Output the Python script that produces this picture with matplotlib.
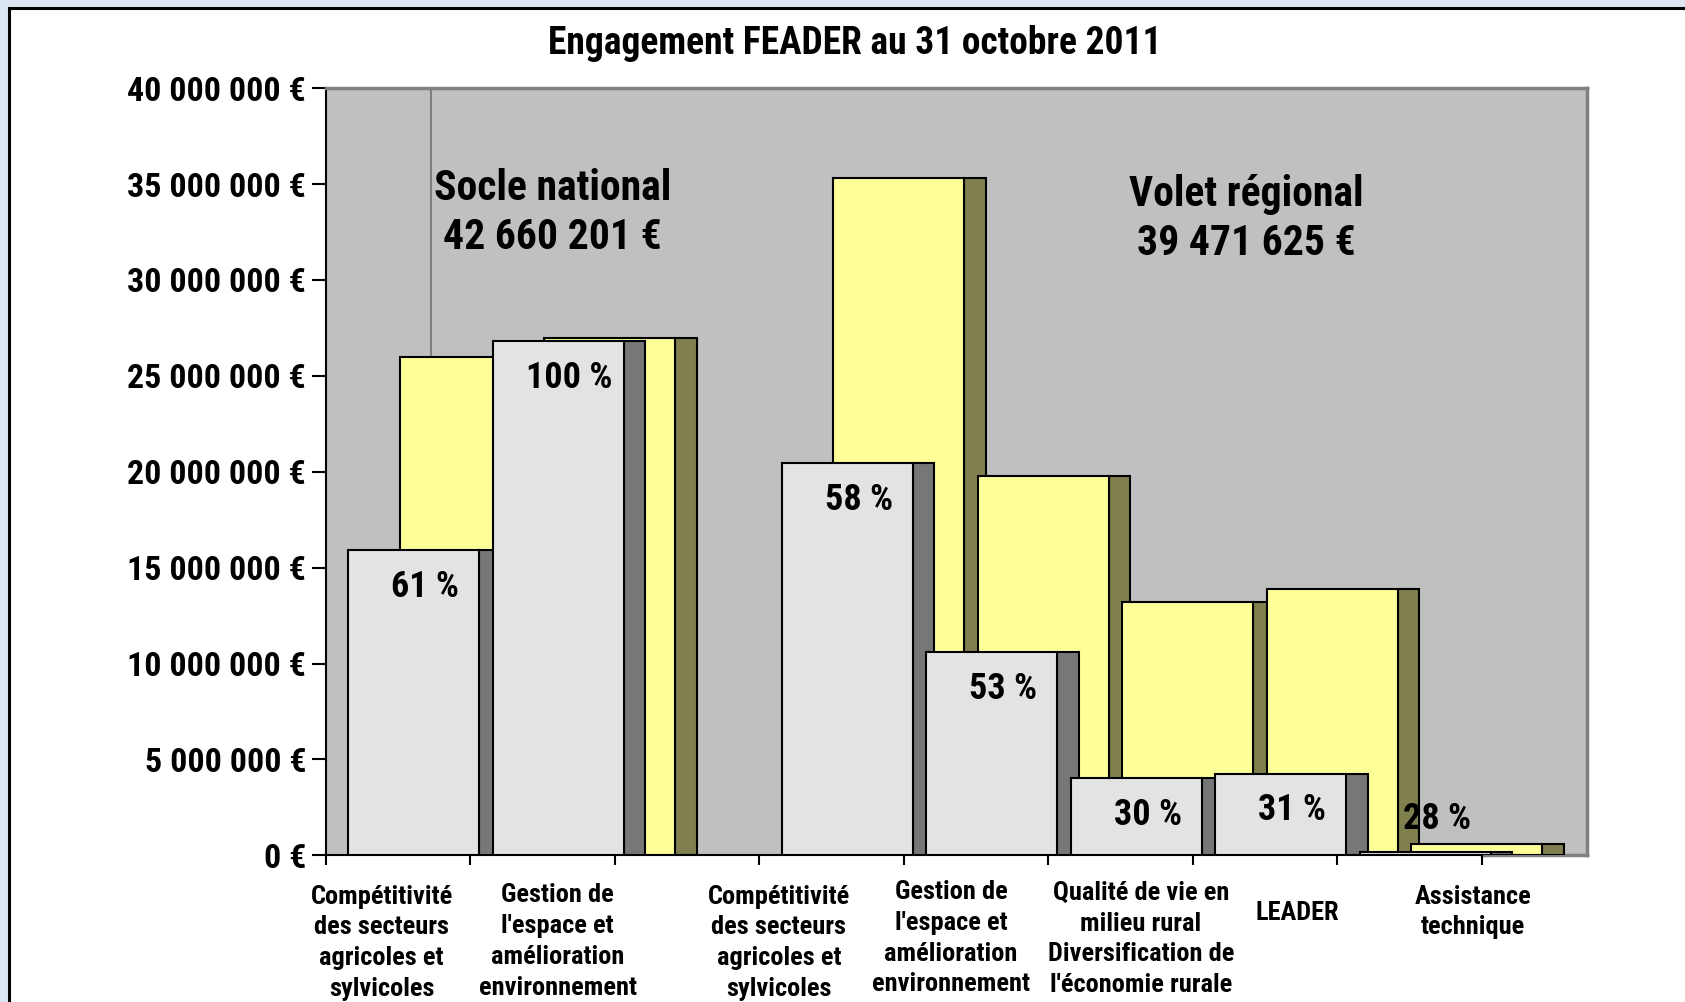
import numpy as np
import matplotlib
matplotlib.use("Agg")
import matplotlib.pyplot as plt
from matplotlib import font_manager
from matplotlib.patches import Rectangle
import matplotlib.transforms as mtransforms

# ---------------- data ----------------
categories = [
    "Compétitivité\ndes secteurs\nagricoles et\nsylvicoles",
    "Gestion de\nl'espace et\namélioration\nenvironnement",
    "",
    "Compétitivité\ndes secteurs\nagricoles et\nsylvicoles",
    "Gestion de\nl'espace et\namélioration\nenvironnement",
    "Qualité de vie en\nmilieu rural\nDiversification de\nl'économie rurale",
    "LEADER",
    "Assistance\ntechnique",
]
# programmed amounts (yellow) and engaged amounts (grey), in euros
programme = [26.0e6, 26.95e6, np.nan, 35.3e6, 19.8e6, 13.2e6, 13.9e6, 0.62e6]
engage = [15.9e6, 26.8e6, np.nan, 20.45e6, 10.6e6, 4.03e6, 4.26e6, 0.17e6]
taux = ["61 %", "100 %", "", "58 %", "53 %", "30 %", "31 %", "28 %"]
yticks_vals = [0, 5e6, 10e6, 15e6, 20e6, 25e6, 30e6, 35e6, 40e6]
title = "Engagement FEADER au 31 octobre 2011"
socle_txt = "Socle national\n42 660 201 €"
volet_txt = "Volet régional\n39 471 625 €"

# ---------------- style / layout ----------------
names = {f.name for f in font_manager.fontManager.ttflist}
pref = ["Arial Narrow", "Liberation Sans Narrow", "Nimbus Sans Narrow", "Roboto Condensed",
        "PT Sans Narrow", "Archivo Narrow"]
FONT = [n for n in pref if n in names][:1] + ["DejaVu Sans"]
plt.rcParams["font.family"] = FONT
plt.rcParams["font.weight"] = "bold"

W, H = 1685, 1002
fig = plt.figure(figsize=(W / 100, H / 100), dpi=100)
fig.patch.set_facecolor("#DCE6F2")
bg = fig.add_axes([0, 0, 1, 1], zorder=-10)
bg.set_axis_off()
bg.set_xlim(0, 1); bg.set_ylim(0, 1)
bg.add_patch(Rectangle((9 / W, -0.05), 1.1, 1 - 8 / H + 0.05, facecolor="white",
                       edgecolor="black", lw=2.2))

ax = fig.add_axes([325.6 / W, 1 - 855.4 / H, (1587 - 325.6) / W, (855.4 - 88.1) / H])
ax.set_facecolor("#C0C0C0")
ax.set_xlim(0, 8.729)
ax.set_ylim(0, 40e6)

GREY_OFF, YEL_OFF, FACE_W, SHAD_W = 0.156, 0.513, 0.907, 0.149
x = np.arange(len(categories))

ax.axvline(0.729, color="#808080", lw=1.5, zorder=1)

ax.bar(x + YEL_OFF + FACE_W, programme, SHAD_W, align="edge", color="#80804F",
       edgecolor="black", lw=1.5, zorder=2)
ax.bar(x + YEL_OFF, programme, FACE_W, align="edge", color="#FFFF99",
       edgecolor="black", lw=1.5, zorder=3)
ax.bar(x + GREY_OFF + FACE_W, engage, SHAD_W, align="edge", color="#777777",
       edgecolor="black", lw=1.5, zorder=4)
ax.bar(x + GREY_OFF, engage, FACE_W, align="edge", color="#E3E3E3",
       edgecolor="black", lw=1.5, zorder=5)

for xi, v, t in zip(x, engage, taux):
    if not t:
        continue
    ax.text(xi + GREY_OFF + FACE_W / 2 + 0.08, max(v - 1.9e6, 1.9e6), t,
            ha="center", va="center", fontsize=26, fontweight="bold", zorder=6)

ax.text(1.57, 33.5e6, socle_txt, ha="center", va="center", fontsize=30,
        fontweight="bold", linespacing=1.26, zorder=6)
ax.text(6.37, 33.19e6, volet_txt, ha="center", va="center", fontsize=30,
        fontweight="bold", linespacing=1.26, zorder=6)

for s in ["top", "right"]:
    ax.spines[s].set_color("#808080")
    ax.spines[s].set_linewidth(2.5)
ax.spines["left"].set_color("black")
ax.spines["left"].set_linewidth(1.5)
ax.spines["bottom"].set_color("black")
ax.spines["bottom"].set_linewidth(1.5)
ax.spines["bottom"].set_bounds(0, 8)
ax.plot([8, 8.729], [0, 0], color="#808080", lw=2.5, zorder=1, clip_on=False)

ax.set_yticks(yticks_vals)
ax.set_yticklabels([f"{v:,.0f} €".replace(",", " ") for v in yticks_vals])
ax.tick_params(axis="y", direction="out", length=10, width=1.5, pad=4,
               labelsize=24.5, labelcolor="black")
ax.set_xticks(np.arange(0, 9))
ax.set_xticklabels([])
ax.tick_params(axis="x", direction="out", length=7, width=1.5)
for lab in ax.get_yticklabels():
    lab.set_fontweight("bold")

label_x = [0.387, 1.606, None, 3.137, 4.327, 5.643, 6.721, 7.941]
label_y = [-0.038, -0.036, None, -0.038, -0.032, -0.033, -0.059, -0.038]
trans = mtransforms.blended_transform_factory(ax.transData, ax.transAxes)
for cat, lx, ly in zip(categories, label_x, label_y):
    if lx is None:
        continue
    ax.text(lx, ly, cat, transform=trans, ha="center", va="top", fontsize=19,
            fontweight="bold", linespacing=1.36, multialignment="center", clip_on=False)

fig.text(0.507, 1 - 44 / H, title, ha="center", va="center", fontsize=27, fontweight="bold")

fig.savefig("out.png", dpi=100, facecolor=fig.get_facecolor())
